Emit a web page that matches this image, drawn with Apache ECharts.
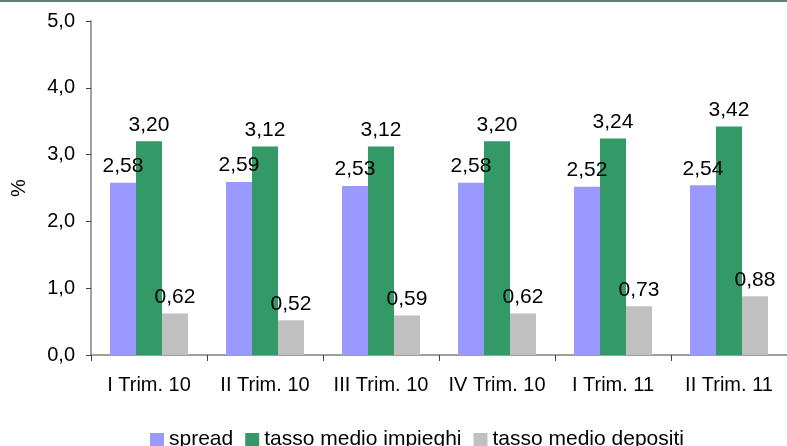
<!DOCTYPE html>
<html>
<head>
<meta charset="utf-8">
<script src="https://cdn.jsdelivr.net/npm/echarts@6/dist/echarts.min.js"></script>
<style>
  html, body { margin: 0; padding: 0; background: #fff; }
  #chart { width: 787px; height: 446px; }
</style>
</head>
<body>
<div id="chart"></div>
<script>
// Quarters on the x axis
const categories = ['I Trim. 10', 'II Trim. 10', 'III Trim. 10', 'IV Trim. 10', 'I Trim. 11', 'II Trim. 11'];
// Rates in percent
const spread = [2.58, 2.59, 2.53, 2.58, 2.52, 2.54];
const tassoImpieghi = [3.20, 3.12, 3.12, 3.20, 3.24, 3.42];
const tassoDepositi = [0.62, 0.52, 0.59, 0.62, 0.73, 0.88];
const seriesNames = ['spread', 'tasso medio impieghi', 'tasso medio depositi'];

const FONT = 'Liberation Sans, Arial, sans-serif';
const fmt2 = v => v.toFixed(2).replace('.', ',');
const fmt1 = v => v.toFixed(1).replace('.', ',');

const chart = echarts.init(document.getElementById('chart'), null, { renderer: 'canvas' });

function barSeries(name, data, color) {
  return {
    name: name,
    type: 'bar',
    data: data,
    barWidth: 26,
    barGap: '0%',
    itemStyle: { color: color },
    label: {
      show: true,
      position: 'top',
      distance: 6,
      color: '#000',
      fontFamily: FONT,
      fontSize: 21,
      formatter: p => fmt2(p.value)
    }
  };
}

chart.setOption({
  animation: false,
  backgroundColor: '#fff',
  textStyle: { fontFamily: FONT },
  graphic: [{
    type: 'rect',
    left: 0, top: 0,
    shape: { width: 787, height: 2 },
    style: { fill: '#5f7f6f' }
  }],
  grid: { left: 91, top: 21, right: -3, bottom: 91, containLabel: false },
  legend: {
    data: seriesNames,
    left: 145,
    top: 424,
    itemWidth: 14,
    itemHeight: 13,
    itemGap: 12,
    icon: 'rect',
    textStyle: { color: '#000', fontSize: 21, fontFamily: FONT }
  },
  xAxis: {
    type: 'category',
    data: categories,
    axisLine: { lineStyle: { color: '#808080', width: 1.5 } },
    axisTick: { show: true, length: 6, lineStyle: { color: '#404040', width: 1 } },
    axisLabel: { color: '#000', fontSize: 20, fontFamily: FONT, margin: 20, interval: 0 }
  },
  yAxis: {
    type: 'value',
    min: 0,
    max: 5,
    interval: 1,
    name: '%',
    nameLocation: 'middle',
    nameGap: 62,
    nameRotate: 90,
    nameTextStyle: { color: '#000', fontSize: 20, fontFamily: FONT },
    splitLine: { show: false },
    axisLine: { show: true, lineStyle: { color: '#808080', width: 1.5 } },
    axisTick: { show: true, length: 5, lineStyle: { color: '#404040', width: 1 } },
    axisLabel: { color: '#000', fontSize: 20, fontFamily: FONT, margin: 16, formatter: v => fmt1(v) }
  },
  series: [
    barSeries(seriesNames[0], spread, '#9999ff'),
    barSeries(seriesNames[1], tassoImpieghi, '#339966'),
    barSeries(seriesNames[2], tassoDepositi, '#c0c0c0')
  ]
});
</script>
</body>
</html>
